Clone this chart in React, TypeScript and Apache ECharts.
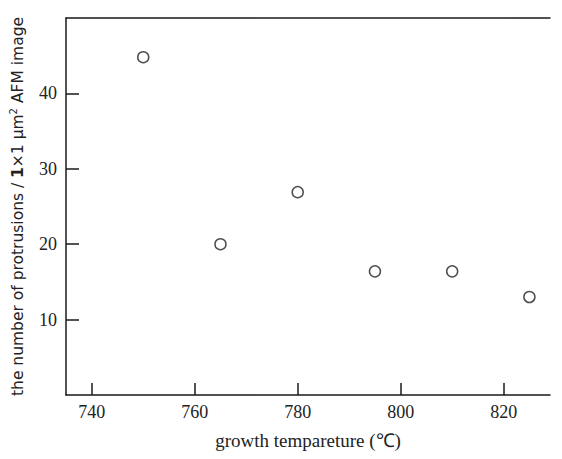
import React, { useEffect, useRef } from "react";
import * as echarts from "echarts";

const temperatures = [750, 765, 780, 795, 810, 825];
const protrusions = [44.8, 20.0, 26.9, 16.4, 16.4, 13.0];
const xTicks = [740, 760, 780, 800, 820];
const yTicks = [10, 20, 30, 40];

export default function App() {
  const ref = useRef<HTMLDivElement>(null);
  useEffect(() => {
    if (!ref.current) return;
    const chart = echarts.init(ref.current, undefined, { renderer: "svg" });
    const lineStyle = { color: "#1a1a1a", width: 1.5 };
    chart.setOption({
      animation: false,
      backgroundColor: "#ffffff",
      grid: { left: 58, right: 4, top: 10, bottom: 56, containLabel: false, outerBoundsMode: "none" },
      xAxis: [
        {
          type: "value",
          min: 735,
          max: 829,
          position: "bottom",
          axisLine: { show: true, onZero: false, lineStyle },
          axisTick: { show: true, inside: true, length: 12, lineStyle, customValues: xTicks },
          axisLabel: {
            customValues: xTicks,
            color: "#222",
            fontFamily: "Liberation Serif",
            fontSize: 18,
            margin: 8,
          },
          splitLine: { show: false },
          name: "growth tempareture (℃)",
          nameLocation: "middle",
          nameGap: 36,
          nameTextStyle: { color: "#222", fontFamily: "Liberation Serif", fontSize: 19 },
        },
        {
          type: "value",
          min: 735,
          max: 829,
          position: "top",
          axisLine: { show: true, onZero: false, lineStyle },
          axisTick: { show: false },
          axisLabel: { show: false },
          splitLine: { show: false },
        },
      ],
      yAxis: {
        type: "value",
        min: 0,
        max: 50,
        axisLine: { show: true, onZero: false, lineStyle },
        axisTick: { show: true, inside: true, length: 13, lineStyle, customValues: yTicks },
        axisLabel: {
          customValues: yTicks,
          color: "#222",
          fontFamily: "Liberation Serif",
          fontSize: 18,
          margin: 9,
        },
        splitLine: { show: false },
        name: "{a|the number of protrusions / }{b|1}{a|×1 μm}{s|2}{a| AFM image}",
        nameLocation: "middle",
        nameGap: 38,
        nameRotate: 90,
        nameTextStyle: {
          lineHeight: 20,
          rich: {
            a: { fontFamily: "DejaVu Sans", fontSize: 15.5, color: "#222", lineHeight: 20 },
            b: { fontFamily: "DejaVu Sans", fontSize: 15.5, fontWeight: "bold", color: "#222", lineHeight: 20 },
            s: { fontFamily: "DejaVu Sans", fontSize: 10, color: "#222", verticalAlign: "top", lineHeight: 12 },
          },
        },
      },
      series: [
        {
          type: "scatter",
          data: temperatures.map((t, i) => [t, protrusions[i]]),
          symbol: "circle",
          symbolSize: 11,
          itemStyle: { color: "#ffffff", borderColor: "#222", borderWidth: 1.5 },
        },
      ],
    });
    return () => chart.dispose();
  }, []);
  return <div ref={ref} style={{ width: 546, height: 443 }} />;
}
